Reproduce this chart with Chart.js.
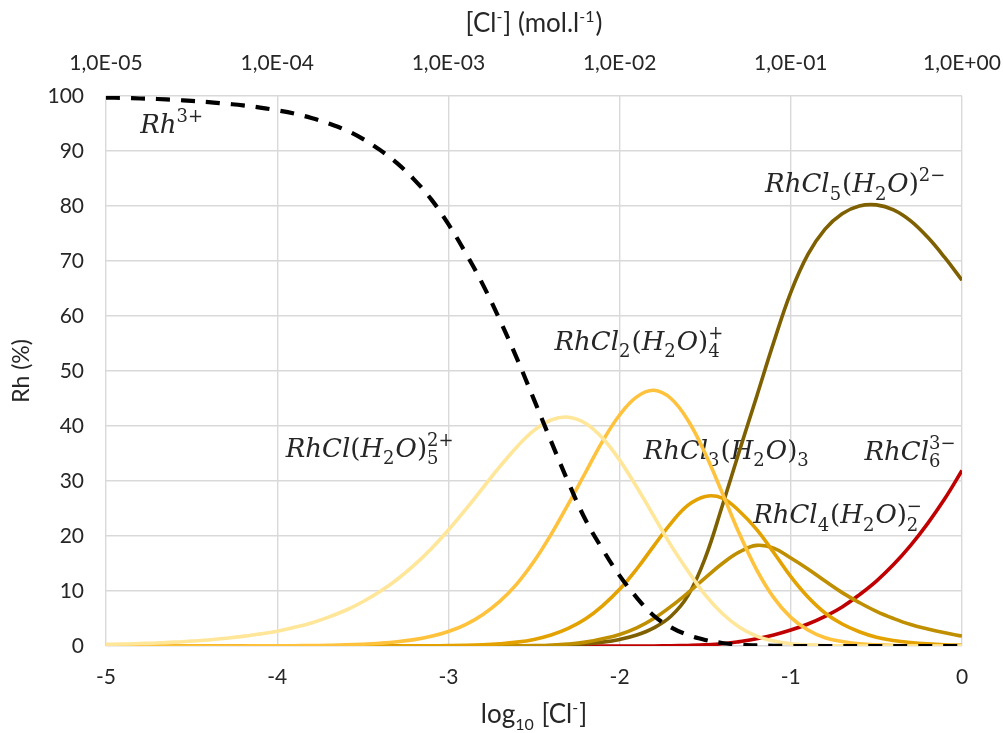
<!DOCTYPE html>
<html>
<head>
<meta charset="utf-8">
<script src="https://cdn.jsdelivr.net/npm/chart.js@4.4.0/dist/chart.umd.min.js"></script>
<style>
  html, body { margin: 0; padding: 0; background: #fff; }
  #wrap { width: 1003px; height: 733px; }
</style>
</head>
<body>
<div id="wrap"><canvas id="rh"></canvas></div>
<script>
// log10 [Cl-], step 0.1
const logCl = [
  -5.0, -4.9, -4.8, -4.7, -4.6, -4.5, -4.4, -4.3, -4.2, -4.1,
  -4.0, -3.9, -3.8, -3.7, -3.6, -3.5, -3.4, -3.3, -3.2, -3.1,
  -3.0, -2.9, -2.8, -2.7, -2.6, -2.5, -2.4, -2.3, -2.2, -2.1,
  -2.0, -1.9, -1.8, -1.7, -1.6, -1.5, -1.4, -1.3, -1.2, -1.1,
  -1.0, -0.9, -0.8, -0.7, -0.6, -0.5, -0.4, -0.3, -0.2, -0.1,
  0.0
];

// Rh species (%)
const rh3 = [
  99.7, 99.65, 99.55, 99.45, 99.3, 99.1, 98.9, 98.6, 98.3, 97.9,
  97.4, 96.8, 96.0, 95.0, 93.8, 92.2, 90.2, 87.8, 84.8, 81.2,
  76.7, 71.5, 65.8, 59.3, 52.3, 44.8, 37.2, 29.8, 23.0, 17.6,
  12.8, 8.8, 5.5, 3.4, 2.0, 1.1, 0.55, 0.25, 0.1, 0.05,
  0, 0, 0, 0, 0, 0, 0, 0, 0, 0,
  0
];
const rhCl = [
  0.3, 0.35, 0.45, 0.55, 0.7, 0.9, 1.1, 1.4, 1.75, 2.2,
  2.7, 3.4, 4.2, 5.25, 6.5, 8.05, 9.9, 12.1, 14.7, 17.7,
  21.1, 24.8, 28.7, 32.6, 36.2, 39.2, 41.1, 41.6, 40.5, 37.8,
  33.8, 28.9, 23.6, 18.3, 13.6, 9.3, 5.9, 3.4, 1.8, 0.9,
  0.4, 0.2, 0.08, 0.03, 0, 0, 0, 0, 0, 0,
  0
];
const rhCl2 = [
  0, 0, 0, 0, 0, 0, 0.01, 0.01, 0.01, 0.02,
  0.03, 0.05, 0.08, 0.13, 0.2, 0.32, 0.5, 0.76, 1.16, 1.76,
  2.64, 3.9, 5.7, 8.1, 11.3, 15.4, 20.3, 25.8, 31.5, 37.2,
  42.0, 45.3, 46.5, 45.0, 41.0, 35.0, 27.8, 20.4, 13.9, 8.8,
  5.2, 2.9, 1.5, 0.8, 0.4, 0.2, 0.1, 0.05, 0.02, 0.01,
  0
];
const rhCl3 = [
  0, 0, 0, 0, 0, 0, 0, 0, 0, 0,
  0, 0, 0, 0, 0, 0, 0, 0.01, 0.02, 0.04,
  0.07, 0.12, 0.22, 0.4, 0.7, 1.2, 2.0, 3.2, 4.9, 7.3,
  10.3, 14.0, 18.2, 22.3, 25.6, 27.2, 26.9, 24.5, 21.2, 17.0,
  12.6, 8.9, 6.0, 4.0, 2.6, 1.6, 1.0, 0.62, 0.38, 0.23,
  0.14
];
const rhCl4 = [
  0, 0, 0, 0, 0, 0, 0, 0, 0, 0,
  0, 0, 0, 0, 0, 0, 0, 0, 0, 0,
  0, 0, 0, 0.01, 0.03, 0.06, 0.15, 0.35, 0.7, 1.3,
  2.1, 3.3, 5.0, 7.2, 9.7, 12.4, 15.0, 17.1, 18.3, 17.8,
  16.0, 14.0, 11.8, 9.7, 7.9, 6.3, 5.0, 3.9, 3.1, 2.4,
  1.8
];
const rhCl5 = [
  0, 0, 0, 0, 0, 0, 0, 0, 0, 0,
  0, 0, 0, 0, 0, 0, 0, 0, 0, 0,
  0, 0, 0, 0, 0, 0, 0.1, 0.2, 0.4, 0.7,
  1.2, 2.0, 3.3, 5.4, 9.2, 16.0, 25.5, 35.5, 45.3, 55.2,
  64.3, 71.2, 75.8, 78.6, 80.0, 80.2, 79.3, 77.3, 74.3, 70.6,
  66.5
];
const rhCl6 = [
  0, 0, 0, 0, 0, 0, 0, 0, 0, 0,
  0, 0, 0, 0, 0, 0, 0, 0, 0, 0,
  0, 0, 0, 0, 0, 0, 0, 0, 0, 0,
  0, 0, 0, 0.04, 0.1, 0.2, 0.4, 0.8, 1.3, 2.0,
  2.9, 4.0, 5.4, 7.1, 9.3, 11.8, 14.8, 18.3, 22.3, 26.8,
  31.9
];

// top axis: [Cl-] in mol/l
const topTicks = ['1,0E-05', '1,0E-04', '1,0E-03', '1,0E-02', '1,0E-01', '1,0E+00'];

const FONT = 'Lato, "Open Sans", sans-serif';
const MATH = '"DejaVu Serif", serif';
const TXT = '#262626';

function series(values) {
  return logCl.map((x, i) => ({ x: x, y: values[i] }));
}

function line(label, values, color, extra) {
  return Object.assign({
    label: label,
    data: series(values),
    borderColor: color,
    backgroundColor: color,
    borderWidth: 3.6,
    pointRadius: 0,
    tension: 0.4,
    fill: false
  }, extra || {});
}

// rich text with sub / superscripts
function drawRich(ctx, parts, x, y, o) {
  const big = (it) => `${it ? 'italic ' : ''}${o.size}px ${o.family}`;
  const small = (it) => `${it ? 'italic ' : ''}${Math.round(o.size * o.ratio)}px ${o.family}`;
  const widths = parts.map(p => {
    if (p.t !== undefined) { ctx.font = big(p.it); return ctx.measureText(p.t).width; }
    ctx.font = small(p.it);
    const a = p.sub ? ctx.measureText(p.sub).width : 0;
    const b = p.sup ? ctx.measureText(p.sup).width : 0;
    return Math.max(a, b) + 1;
  });
  const total = widths.reduce((a, b) => a + b, 0);
  let cx = o.align === 'center' ? x - total / 2 : x;
  ctx.textAlign = 'left';
  ctx.textBaseline = 'alphabetic';
  parts.forEach((p, i) => {
    if (p.t !== undefined) {
      ctx.font = big(p.it);
      ctx.fillText(p.t, cx, y);
    } else {
      ctx.font = small(p.it);
      if (p.sub) ctx.fillText(p.sub, cx, y + o.size * o.subDy);
      if (p.sup) ctx.fillText(p.sup, cx, y - o.size * o.supDy);
    }
    cx += widths[i];
  });
}

// species labels, anchored in data units (left edge, baseline)
const M = (t) => ({ t: t, it: true });
const U = (t) => ({ t: t, it: false });
const speciesLabels = [
  { x: -4.80, y: 93.2, parts: [M('Rh'), { sup: '3+' }] },
  { x: -3.95, y: 34.4, parts: [M('RhCl'), U('('), M('H'), { sub: '2' }, M('O'), U(')'), { sub: '5', sup: '2+' }] },
  { x: -2.38, y: 53.9, parts: [M('RhCl'), { sub: '2' }, U('('), M('H'), { sub: '2' }, M('O'), U(')'), { sub: '4', sup: '+' }] },
  { x: -1.86, y: 34.0, parts: [M('RhCl'), { sub: '3' }, U('('), M('H'), { sub: '2' }, M('O'), U(')'), { sub: '3' }] },
  { x: -1.22, y: 22.3, parts: [M('RhCl'), { sub: '4' }, U('('), M('H'), { sub: '2' }, M('O'), U(')'), { sub: '2', sup: '\u2212' }] },
  { x: -1.15, y: 82.5, parts: [M('RhCl'), { sub: '5' }, U('('), M('H'), { sub: '2' }, M('O'), U(')'), { sup: '2\u2212' }] },
  { x: -0.57, y: 33.8, parts: [M('RhCl'), { sub: '6', sup: '3\u2212' }] }
];

const decorations = {
  id: 'decorations',
  beforeDatasetsDraw(chart) {
    const ctx = chart.ctx;
    const xs = chart.scales.x, ys = chart.scales.y;
    ctx.save();
    ctx.fillStyle = TXT;
    speciesLabels.forEach(l => {
      drawRich(ctx, l.parts, xs.getPixelForValue(l.x), ys.getPixelForValue(l.y),
        { size: 26, family: MATH, ratio: 0.7, subDy: 0.28, supDy: 0.42, align: 'left' });
    });
    ctx.restore();
  },
  afterDraw(chart) {
    const ctx = chart.ctx;
    const a = chart.chartArea;
    const cx = (a.left + a.right) / 2;
    const opt = { size: 26, family: FONT, ratio: 0.62, subDy: 0.28, supDy: 0.4, align: 'center' };
    ctx.save();
    ctx.fillStyle = TXT;
    drawRich(ctx, [U('[Cl'), { sup: '-' }, U('] (mol.l'), { sup: '-1' }, U(')')], cx, 32, opt);
    drawRich(ctx, [U('log'), { sub: '10' }, U(' [Cl'), { sup: '-' }, U(']')], cx, 723, opt);
    ctx.translate(22, (a.top + a.bottom) / 2);
    ctx.rotate(-Math.PI / 2);
    ctx.font = `23px ${FONT}`;
    ctx.textAlign = 'center';
    ctx.textBaseline = 'middle';
    ctx.fillText('Rh (%)', 0, 0);
    ctx.restore();
  }
};

const gridStyle = { color: '#d9d9d9', lineWidth: 1.4, drawTicks: false };
const tickFont = { family: FONT, size: 21 };
const noSidePad = s => { s.paddingLeft = 0; s.paddingRight = 0; };

new Chart(document.getElementById('rh'), {
  type: 'line',
  data: {
    datasets: [
      line('Rh3+', rh3, '#000000', { borderWidth: 4.2, borderDash: [14, 11] }),
      line('RhCl(H2O)5 2+', rhCl, '#FFE699'),
      line('RhCl2(H2O)4 +', rhCl2, '#FFC23C'),
      line('RhCl3(H2O)3', rhCl3, '#E3A200'),
      line('RhCl4(H2O)2 -', rhCl4, '#BF8F00'),
      line('RhCl5(H2O) 2-', rhCl5, '#7F6000'),
      line('RhCl6 3-', rhCl6, '#C00000')
    ]
  },
  options: {
    responsive: true,
    maintainAspectRatio: false,
    animation: false,
    layout: { padding: { left: 0, right: 41, top: 0, bottom: 0 } },
    plugins: {
      legend: { display: false },
      tooltip: { enabled: false }
    },
    scales: {
      x: {
        type: 'linear', position: 'bottom', min: -5, max: 0,
        ticks: { stepSize: 1, padding: 19, color: TXT, font: tickFont },
        grid: gridStyle,
        border: { display: false },
        afterFit: s => { s.height = 87; noSidePad(s); }
      },
      xTop: {
        type: 'linear', position: 'top', min: -5, max: 0,
        ticks: {
          stepSize: 1, padding: 20, color: TXT, font: tickFont,
          callback: v => topTicks[Math.round(v) + 5]
        },
        grid: { display: false, drawTicks: false },
        border: { display: false },
        afterFit: s => { s.height = 96; noSidePad(s); }
      },
      y: {
        min: 0, max: 100,
        ticks: { stepSize: 10, padding: 22, color: TXT, font: tickFont },
        grid: gridStyle,
        border: { display: false },
        afterFit: s => { s.width = 106; }
      }
    }
  },
  plugins: [decorations]
});
</script>
</body>
</html>
